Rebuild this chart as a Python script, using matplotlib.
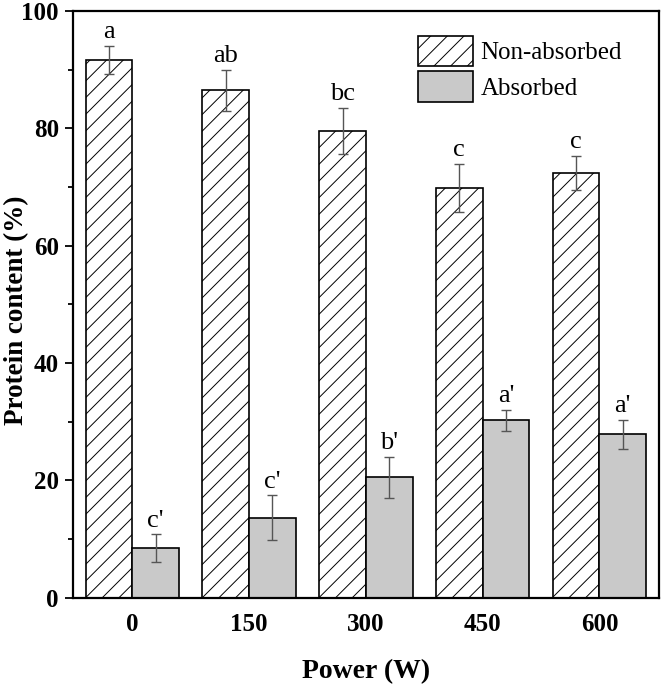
import matplotlib
matplotlib.use("Agg")
import matplotlib.pyplot as plt
import numpy as np
from matplotlib.ticker import MultipleLocator

plt.rcParams['font.family'] = ['Liberation Serif', 'DejaVu Serif']
plt.rcParams['hatch.linewidth'] = 0.7

powers = ['0', '150', '300', '450', '600']
non_absorbed = [91.6, 86.5, 79.6, 69.9, 72.4]
non_absorbed_err = [2.4, 3.5, 3.9, 4.1, 2.9]
absorbed = [8.4, 13.6, 20.5, 30.2, 27.8]
absorbed_err = [2.35, 3.8, 3.45, 1.8, 2.5]
letters_non = ['a', 'ab', 'bc', 'c', 'c']
letters_abs = ["c'", "c'", "b'", "a'", "a'"]

fig = plt.figure(figsize=(6.61, 6.90), dpi=100)
ax = fig.add_axes([0.110, 0.134, 0.887, 0.850])

x = np.arange(len(powers))
w = 0.40
ax.bar(x - w/2, non_absorbed, w, color='white', edgecolor='black', hatch='//',
       linewidth=1.2, label='Non-absorbed', zorder=2)
ax.bar(x + w/2, absorbed, w, color='#c9c9c9', edgecolor='black',
       linewidth=1.2, label='Absorbed', zorder=2)
ax.errorbar(x - w/2, non_absorbed, yerr=non_absorbed_err, fmt='none',
            ecolor='#555555', elinewidth=1.0, capsize=3.5, capthick=1.0, zorder=3)
ax.errorbar(x + w/2, absorbed, yerr=absorbed_err, fmt='none',
            ecolor='#555555', elinewidth=1.0, capsize=3.5, capthick=1.0, zorder=3)

for xi, v, e, t in zip(x - w/2, non_absorbed, non_absorbed_err, letters_non):
    ax.text(xi, v + e + 0.5, t, ha='center', va='bottom', fontsize=19)
for xi, v, e, t in zip(x + w/2, absorbed, absorbed_err, letters_abs):
    ax.text(xi, v + e + 0.5, t, ha='center', va='bottom', fontsize=19)

ax.set_xlim(-0.51, 4.51)
ax.set_ylim(0, 100)
ax.set_xticks(x)
ax.set_xticklabels(powers, fontsize=18, fontweight='bold')
ax.yaxis.set_major_locator(MultipleLocator(20))
ax.yaxis.set_minor_locator(MultipleLocator(10))
for lab in ax.get_yticklabels():
    lab.set_fontsize(18)
    lab.set_fontweight('bold')
ax.tick_params(axis='x', length=0, pad=11)
ax.tick_params(axis='y', which='major', length=6, width=1.3, pad=4)
ax.tick_params(axis='y', which='minor', length=3.5, width=1.3)
for s in ax.spines.values():
    s.set_linewidth(1.6)

ax.set_xlabel('Power (W)', fontsize=20, fontweight='bold')
ax.xaxis.set_label_coords(0.5, -0.105)
ax.set_ylabel('Protein content (%)', fontsize=19.5, fontweight='bold')
ax.yaxis.set_label_coords(-0.074, 0.49)

leg = ax.legend(loc='upper left', bbox_to_anchor=(0.585, 0.962), frameon=False,
                fontsize=18, handlelength=2.2, handleheight=1.5,
                handletextpad=0.3, labelspacing=0.2, borderaxespad=0.0,
                borderpad=0.1)

fig.savefig('out.png', dpi=100)
